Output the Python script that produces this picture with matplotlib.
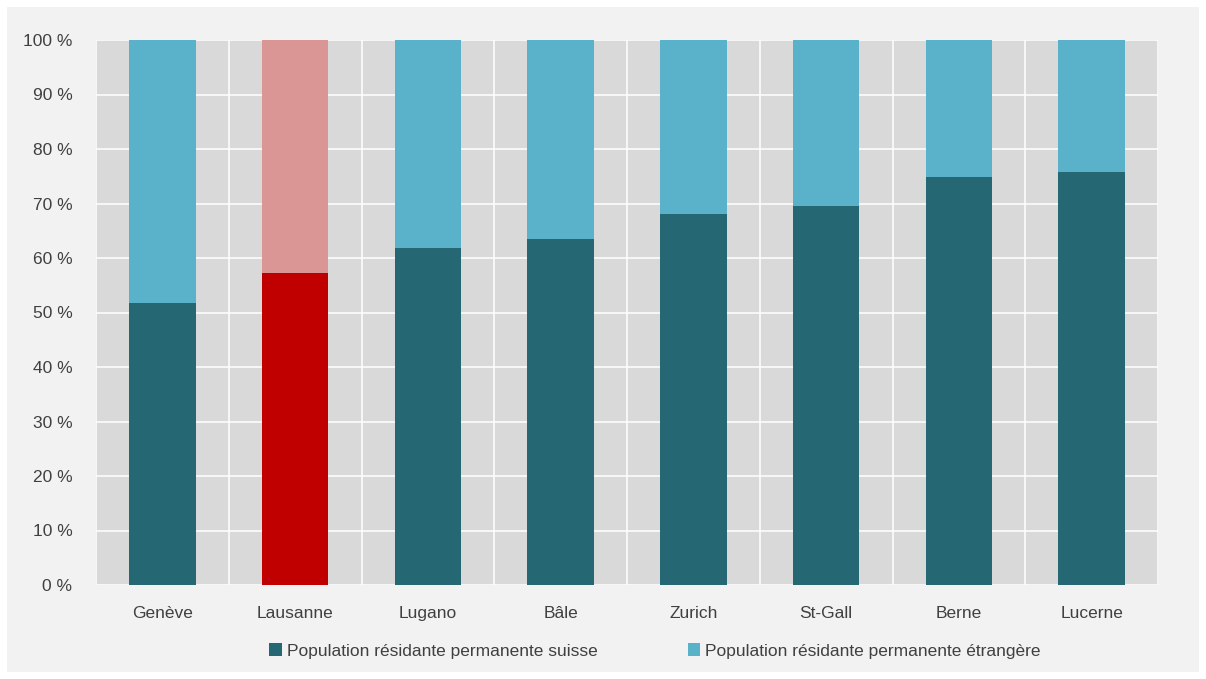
import matplotlib
matplotlib.use("Agg")
import matplotlib.pyplot as plt
from matplotlib.patches import Rectangle, Patch
import numpy as np

cities = ["Genève", "Lausanne", "Lugano", "Bâle", "Zurich", "St-Gall", "Berne", "Lucerne"]
swiss = [51.7, 57.2, 61.8, 63.5, 68.1, 69.6, 74.9, 75.8]
foreign = [round(100 - v, 1) for v in swiss]
yticks = list(range(0, 101, 10))
ytick_labels = [f"{v} %" for v in yticks]
legend_labels = ["Population résidante permanente suisse",
                 "Population résidante permanente étrangère"]

DARK = "#256874"
LIGHT = "#5ab1ca"
RED = "#c00000"
PINK = "#da9694"
TXT = "#404040"

plt.rcParams["font.family"] = ["Liberation Sans", "DejaVu Sans"]

W, H = 1206, 679
fig = plt.figure(figsize=(W / 100, H / 100), dpi=100)
fig.patch.set_facecolor("white")
bg = Rectangle((7 / W, 7 / H), (1199 - 7) / W, (672 - 7) / H,
               transform=fig.transFigure, facecolor="#f2f2f2",
               edgecolor="none", zorder=-10)
fig.add_artist(bg)

ax = fig.add_axes([96 / W, 1 - 585 / H, (1158 - 96) / W, (585 - 40) / H])
ax.set_zorder(1)
ax.set_facecolor("#d9d9d9")

x = np.arange(len(cities))
c_low = [RED if c == "Lausanne" else DARK for c in cities]
c_high = [PINK if c == "Lausanne" else LIGHT for c in cities]
ax.bar(x, swiss, width=0.5, color=c_low, zorder=3)
ax.bar(x, foreign, bottom=swiss, width=0.5, color=c_high, zorder=3)

ax.set_xlim(-0.5, len(cities) - 0.5)
ax.set_ylim(0, 100)
ax.set_yticks(yticks)
ax.set_yticklabels(ytick_labels)
ax.set_xticks(x)
ax.set_xticklabels(cities)
ax.set_xticks(np.arange(-0.5, len(cities)), minor=True)
ax.grid(axis="y", which="major", color="white", linewidth=1.1, zorder=1)
ax.grid(axis="x", which="minor", color="white", linewidth=1.1, zorder=1)
ax.tick_params(axis="both", which="both", length=0, labelsize=12.5, labelcolor=TXT)
ax.tick_params(axis="y", pad=17)
ax.tick_params(axis="x", pad=15)
for s in ax.spines.values():
    s.set_visible(False)

handles = [Patch(facecolor=DARK), Patch(facecolor=LIGHT)]
leg = fig.legend(handles, legend_labels, loc="center", bbox_to_anchor=(655 / W, 1 - 651 / H),
                 ncol=2, frameon=False, fontsize=12.5, handlelength=0.7, handleheight=0.7,
                 handletextpad=0.3, columnspacing=5.2)
leg.set_zorder(2)
for t in leg.get_texts():
    t.set_color(TXT)

fig.savefig("out.png", dpi=100, facecolor=fig.get_facecolor())
